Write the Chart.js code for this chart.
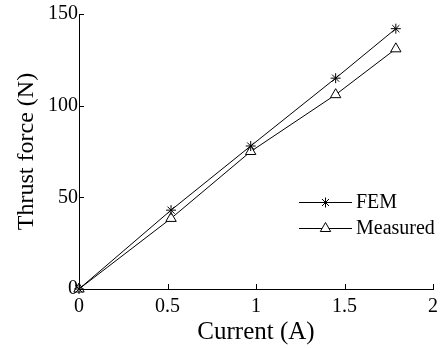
<!DOCTYPE html>
<html>
<head>
<meta charset="utf-8">
<script src="https://cdn.jsdelivr.net/npm/chart.js@4"></script>
<style>
  html, body { margin: 0; padding: 0; background: #fff; }
  #wrap { width: 444px; height: 348px; }
</style>
</head>
<body>
<div id="wrap"><canvas id="myChart" width="444" height="348"></canvas></div>
<script>
let current = [0, 0.52, 0.97, 1.45, 1.79];
let femForce = [0, 43, 78, 115, 142];
let measuredForce = [0, 38.5, 75, 106, 131];
let seriesNames = ['FEM', 'Measured'];
let xTicks = [0, 0.5, 1, 1.5, 2];
let yTicks = [0, 50, 100, 150];

let serif = 'Liberation Serif';

function toPoints(xs, ys) {
    return xs.map((x, i) => ({x: x, y: ys[i]}));
}

// small ticks pointing into the plot, like the original
let innerTicks = {
    id: 'innerTicks',
    afterDraw(chart) {
        let ctx = chart.ctx;
        let a = chart.chartArea;
        ctx.save();
        ctx.strokeStyle = '#000';
        ctx.lineWidth = 1;
        chart.scales.x.ticks.forEach(t => {
            let px = Math.round(chart.scales.x.getPixelForValue(t.value)) + 0.5;
            ctx.beginPath();
            ctx.moveTo(px, a.bottom);
            ctx.lineTo(px, a.bottom - 5);
            ctx.stroke();
        });
        chart.scales.y.ticks.forEach(t => {
            let py = Math.round(chart.scales.y.getPixelForValue(t.value)) + 0.5;
            ctx.beginPath();
            ctx.moveTo(a.left, py);
            ctx.lineTo(a.left + 5, py);
            ctx.stroke();
        });
        ctx.restore();
    }
};

// legend: line with marker in the middle, then the name
let lineLegend = {
    id: 'lineLegend',
    afterDraw(chart) {
        let ctx = chart.ctx;
        let a = chart.chartArea;
        let x0 = a.right - 134, x1 = a.right - 81;
        let rows = [a.top + 188, a.top + 214];
        ctx.save();
        chart.data.datasets.forEach((ds, i) => {
            let y = rows[i];
            ctx.strokeStyle = '#000';
            ctx.lineWidth = 1;
            ctx.beginPath();
            ctx.moveTo(x0, y + 0.5);
            ctx.lineTo(x1, y + 0.5);
            ctx.stroke();
            ctx.fillStyle = ds.pointBackgroundColor;
            ctx.strokeStyle = ds.pointBorderColor;
            Chart.helpers.drawPoint(ctx, {
                pointStyle: ds.pointStyle,
                radius: ds.pointRadius,
                borderWidth: 1,
                rotation: 0
            }, (x0 + x1) / 2, y + 0.5);
            ctx.fillStyle = '#000';
            ctx.font = '20px "' + serif + '"';
            ctx.textAlign = 'left';
            ctx.textBaseline = 'middle';
            ctx.fillText(ds.label, x1 + 4, y + 1);
        });
        ctx.restore();
    }
};

let myChart = document.getElementById('myChart').getContext('2d');

let forceChart = new Chart(myChart, {
    type: 'line',
    data: {
        datasets: [{
            label: seriesNames[0],
            data: toPoints(current, femForce),
            borderColor: '#000',
            borderWidth: 1,
            pointStyle: 'star',
            pointRadius: 5,
            pointBorderColor: '#000',
            pointBackgroundColor: '#000',
            pointBorderWidth: 1,
            clip: false
        }, {
            label: seriesNames[1],
            data: toPoints(current, measuredForce),
            borderColor: '#000',
            borderWidth: 1,
            pointStyle: 'triangle',
            pointRadius: 6,
            pointBorderColor: '#000',
            pointBackgroundColor: '#fff',
            pointBorderWidth: 1,
            clip: false
        }]
    },
    options: {
        responsive: false,
        animation: false,
        layout: { padding: { top: 14, right: 11, left: 0, bottom: 0 } },
        plugins: {
            legend: { display: false },
            tooltip: { enabled: false }
        },
        scales: {
            x: {
                type: 'linear',
                min: 0,
                max: 2,
                afterFit: s => { s.height = 59; },
                afterBuildTicks: s => { s.ticks = xTicks.map(v => ({value: v})); },
                grid: { drawOnChartArea: false, drawTicks: false },
                border: { color: '#000', width: 1 },
                ticks: {
                    color: '#000',
                    padding: 6,
                    maxRotation: 0,
                    callback: v => String(v),
                    font: { family: serif, size: 20 }
                },
                title: {
                    display: true,
                    text: 'Current (A)',
                    color: '#000',
                    padding: { top: 0, bottom: 3 },
                    font: { family: serif, size: 25, lineHeight: 1 }
                }
            },
            y: {
                min: 0,
                max: 150,
                afterFit: s => { s.width = 79; },
                afterBuildTicks: s => { s.ticks = yTicks.map(v => ({value: v})); },
                grid: { drawOnChartArea: false, drawTicks: false },
                border: { color: '#000', width: 1 },
                ticks: {
                    color: '#000',
                    padding: 1,
                    callback: v => String(v),
                    font: { family: serif, size: 20 }
                },
                title: {
                    display: true,
                    text: 'Thrust force (N)',
                    color: '#000',
                    padding: { top: 15, bottom: 0 },
                    font: { family: serif, size: 24, lineHeight: 1 }
                }
            }
        }
    },
    plugins: [innerTicks, lineLegend]
});
</script>
</body>
</html>
